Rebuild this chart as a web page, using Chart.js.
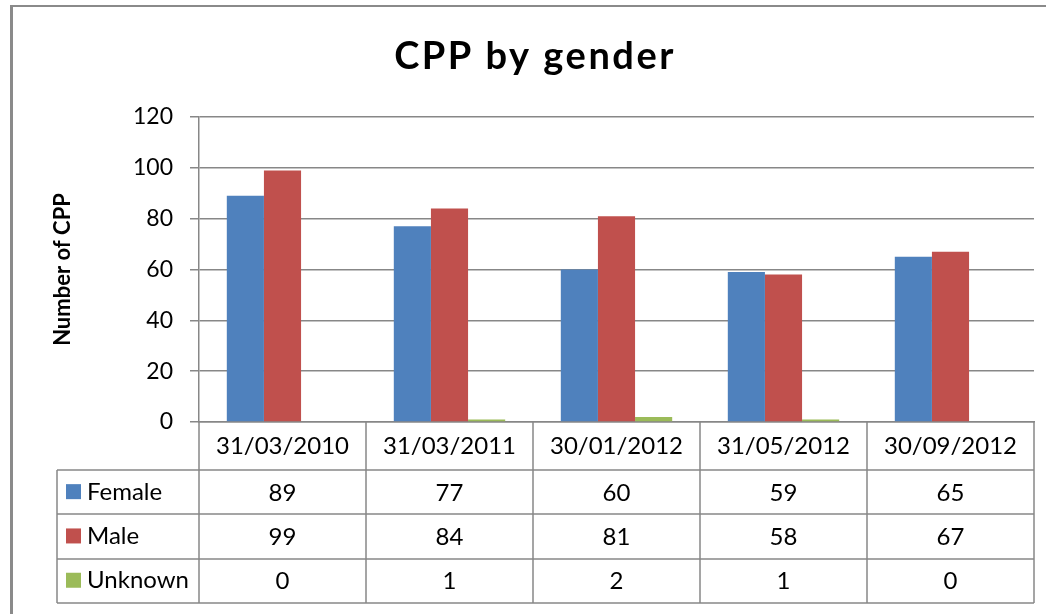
<!DOCTYPE html>
<html><head><meta charset="utf-8">
<script src="https://cdn.jsdelivr.net/npm/chart.js@4.4.1/dist/chart.umd.min.js"></script>
<style>html,body{margin:0;padding:0;background:#fff;overflow:hidden}#wrap{width:1046px;height:614px;position:relative}</style>
</head><body><div id="wrap"><canvas id="c"></canvas></div>
<script>
const chartTitle = 'CPP by gender';
const yTitle = 'Number of CPP';
const categories = ['31/03/2010','31/03/2011','30/01/2012','31/05/2012','30/09/2012'];
const seriesNames = ['Female','Male','Unknown'];
const female = [89,77,60,59,65];
const male = [99,84,81,58,67];
const unknown = [0,1,2,1,0];
const yMin = 0, yMax = 120, yStep = 20;
const colors = ['#4F81BD','#C0504D','#9BBB59'];
const seriesValues = [female, male, unknown];

const FONT = 'Lato, "Open Sans", sans-serif';
const LINE = '#878787';

const framePlugin = {
  id: 'frame',
  beforeDraw(chart){
    const ctx = chart.ctx;
    ctx.save();
    ctx.fillStyle = '#fff';
    ctx.fillRect(0,0,chart.width,chart.height);
    ctx.strokeStyle = '#8a8a8a';
    ctx.lineWidth = 3;
    ctx.beginPath(); ctx.moveTo(11.5, 5); ctx.lineTo(11.5, chart.height); ctx.stroke();
    ctx.lineWidth = 2;
    ctx.beginPath(); ctx.moveTo(10, 6); ctx.lineTo(chart.width, 6); ctx.stroke();
    // title
    ctx.fillStyle = '#000';
    ctx.font = 'bold 38px ' + FONT;
    ctx.textAlign = 'center';
    ctx.textBaseline = 'alphabetic';
    if ('letterSpacing' in ctx) ctx.letterSpacing = '2.5px';
    ctx.fillText(chartTitle, 535, 69);
    ctx.restore();
  }
};

const tablePlugin = {
  id: 'dataTable',
  afterDraw(chart){
    const {ctx, chartArea} = chart;
    const x = chart.scales.x;
    const n = categories.length;
    const cw = (chartArea.right - chartArea.left) / n;
    const top = chartArea.bottom;
    const catH = 48, rowH = 44.3;
    const tableLeft = 57;
    const rowsTop = top + catH;
    const bottom = rowsTop + rowH * seriesNames.length;
    ctx.save();
    ctx.strokeStyle = LINE;
    ctx.lineWidth = 1.5;
    for (let i = 0; i <= n; i++) {
      const px = Math.round(chartArea.left + i * cw);
      ctx.beginPath(); ctx.moveTo(px, top); ctx.lineTo(px, bottom); ctx.stroke();
    }
    ctx.beginPath(); ctx.moveTo(tableLeft, rowsTop); ctx.lineTo(tableLeft, bottom); ctx.stroke();
    for (let r = 0; r <= seriesNames.length; r++) {
      const py = Math.round(rowsTop + r * rowH);
      ctx.beginPath(); ctx.moveTo(tableLeft, py); ctx.lineTo(chartArea.right, py); ctx.stroke();
    }
    ctx.fillStyle = '#000';
    ctx.font = '24px ' + FONT;
    ctx.textBaseline = 'middle';
    for (let r = 0; r < seriesNames.length; r++) {
      const cy = rowsTop + r * rowH + rowH / 2;
      ctx.fillStyle = colors[r];
      ctx.fillRect(66, cy - 8, 15, 15);
      ctx.fillStyle = '#000';
      ctx.textAlign = 'left';
      ctx.fillText(seriesNames[r], 87, cy);
      ctx.textAlign = 'center';
      for (let i = 0; i < n; i++) {
        ctx.fillText(String(seriesValues[r][i]), x.getPixelForValue(i), cy + 1);
      }
    }
    ctx.restore();
  }
};

new Chart(document.getElementById('c'), {
  type: 'bar',
  data: {
    labels: categories,
    datasets: seriesNames.map((name, i) => ({
      label: name,
      data: seriesValues[i],
      backgroundColor: colors[i],
      borderWidth: 0,
      categoryPercentage: 0.667,
      barPercentage: 1
    }))
  },
  options: {
    responsive: true,
    maintainAspectRatio: false,
    animation: false,
    devicePixelRatio: 1,
    layout: { padding: { left: 0, right: 12, top: 117, bottom: 144 } },
    plugins: {
      legend: { display: false },
      tooltip: { enabled: false },
      title: { display: false }
    },
    scales: {
      x: {
        grid: { display: false, drawTicks: false, tickLength: 0 },
        border: { display: true, color: LINE, width: 1.5 },
        ticks: { color: '#000', font: { family: FONT, size: 24 }, padding: 10, maxRotation: 0, autoSkip: false },
        afterFit(scale){ scale.height = 48; }
      },
      y: {
        min: yMin, max: yMax,
        ticks: { stepSize: yStep, color: '#000', font: { family: FONT, size: 23 }, padding: 17 },
        grid: { color: LINE, lineWidth: 1.5, tickLength: 9, drawTicks: true },
        border: { display: true, color: LINE, width: 1.5 },
        title: {
          display: true, text: yTitle, color: '#000',
          font: { family: FONT, size: 22, weight: 'bold', lineHeight: 1.2 },
          padding: { top: 50, bottom: 0 }
        },
        afterFit(scale){ scale.width = 199; }
      }
    }
  },
  plugins: [framePlugin, tablePlugin]
});
</script>
</body></html>
